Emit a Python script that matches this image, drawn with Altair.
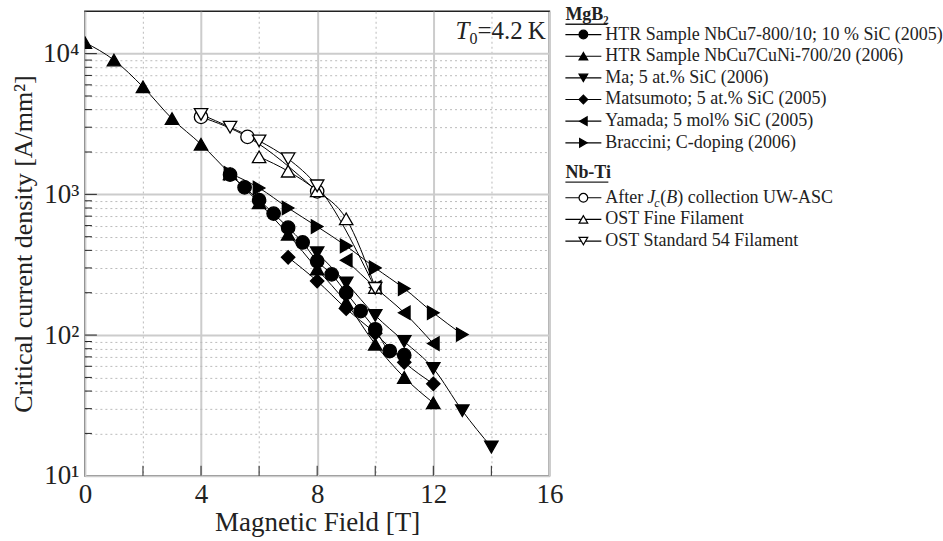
import altair as alt
import pandas as pd

FONT = "Liberation Serif"

# ---------------- data ----------------
htr800_B = [5, 5.5, 6, 6.5, 7, 7.5, 8, 8.5, 9, 9.5, 10, 10.5, 11]
htr800_J = [1380, 1120, 910, 730, 580, 455, 335, 270, 200, 148, 110, 77, 72]

htr700_B = [0, 1, 2, 3, 4, 5, 6, 7, 8, 9, 10, 11, 12]
htr700_J = [12000, 9000, 5800, 3450, 2270, 1400, 870, 520, 295, 170, 86, 50, 33]

ma_B = [8, 9, 10, 11, 12, 13, 14]
ma_J = [385, 235, 138, 90, 58, 29, 16]

mats_B = [7, 8, 9, 10, 11, 12]
mats_J = [357, 242, 154, 103, 64, 45]

yam_B = [9, 10, 11, 12]
yam_J = [340, 218, 144, 87]

brac_B = [5, 6, 7, 8, 9, 10, 11, 12, 13]
brac_J = [1410, 1110, 800, 590, 430, 300, 214, 144, 101]

uw_B = [4, 5.6, 8]
uw_J = [3550, 2560, 1050]

ostf_B = [6, 7, 8, 9, 10]
ostf_J = [1850, 1460, 1060, 670, 218]

ost54_B = [4, 5, 6, 7, 8, 10]
ost54_J = [3700, 3000, 2400, 1790, 1150, 215]

series_names = [
    "HTR Sample NbCu7-800/10; 10 % SiC (2005)",
    "HTR Sample NbCu7CuNi-700/20 (2006)",
    "Ma; 5 at.% SiC (2006)",
    "Matsumoto; 5 at.% SiC (2005)",
    "Yamada; 5 mol% SiC (2005)",
    "Braccini; C-doping (2006)",
    "After Jc(B) collection UW-ASC",
    "OST Fine Filament",
    "OST Standard 54 Filament",
]
series_B = [htr800_B, htr700_B, ma_B, mats_B, yam_B, brac_B, uw_B, ostf_B, ost54_B]
series_J = [htr800_J, htr700_J, ma_J, mats_J, yam_J, brac_J, uw_J, ostf_J, ost54_J]
series_shapes = ["circle", "triangle-up", "triangle-down", "diamond", "triangle-left",
                 "triangle-right", "circle", "triangle-up", "triangle-down"]
series_fills = ["black"] * 6 + ["white"] * 3

x_ticks = [0, 2, 4, 6, 8, 10, 12, 14, 16]
y_ticks = [m * 10 ** e for e in range(1, 4) for m in range(1, 10)] + [10000]
y_major = [10, 100, 1000, 10000]

rows = []
for name, bs, js in zip(series_names, series_B, series_J):
    for b, j in zip(bs, js):
        rows.append({"series": name, "B": b, "J": j})
df = pd.DataFrame(rows)

W, H = 465, 465

shape_scale = alt.Scale(domain=series_names, range=series_shapes)
fill_scale = alt.Scale(domain=series_names, range=series_fills)

xscale = alt.Scale(domain=[0, 16], nice=False)
yscale = alt.Scale(type="log", domain=[10, 20000], nice=False)

sup = {10: "10\u00b9", 100: "10\u00b2", 1000: "10\u00b3", 10000: "10\u2074"}
y_label_expr = ("datum.value == 10 ? '%s' : datum.value == 100 ? '%s' : "
                "datum.value == 1000 ? '%s' : datum.value == 10000 ? '%s' : ''") % (
    sup[10], sup[100], sup[1000], sup[10000])
major_test_y = "indexof([10,100,1000,10000], datum.value) >= 0"
major_test_x = "datum.value % 4 == 0"

x_axis = alt.Axis(
    values=x_ticks, labelExpr="datum.value % 4 == 0 ? datum.label : ''",
    title="Magnetic Field [T]", tickSize=0, domain=False,
    labelFont=FONT, labelFontSize=27, labelColor="#222", labelPadding=6,
    labelFlush=False, labelOverlap=False,
    titleFont=FONT, titleFontSize=27, titleFontWeight="normal", titleColor="#222",
    titlePadding=2,
    grid=True,
    gridDash={"condition": {"test": "!(" + major_test_x + ")", "value": [2, 3]}, "value": []},
    gridColor={"condition": {"test": major_test_x, "value": "#cccccc"}, "value": "#bbbbbb"},
    gridWidth={"condition": {"test": major_test_x, "value": 2}, "value": 1},
)
y_axis = alt.Axis(
    values=y_ticks, labelExpr=y_label_expr,
    title="Critical current density [A/mm\u00b2]", tickSize=0, domain=False,
    labelFont=FONT, labelFontSize=27, labelColor="#222", labelPadding=6,
    labelFlush=False, labelOverlap=False,
    titleFont=FONT, titleFontSize=26, titleFontWeight="normal", titleColor="#222",
    titlePadding=6,
    grid=True,
    gridDash={"condition": {"test": "!(" + major_test_y + ")", "value": [2, 3]}, "value": []},
    gridColor={"condition": {"test": major_test_y, "value": "#cccccc"}, "value": "#bbbbbb"},
    gridWidth={"condition": {"test": major_test_y, "value": 2}, "value": 1},
)

base = alt.Chart(df)
lines = base.mark_line(color="black", strokeWidth=1, interpolate="monotone").encode(
    x=alt.X("B:Q", scale=xscale, axis=x_axis),
    y=alt.Y("J:Q", scale=yscale, axis=y_axis),
    detail="series:N",
)
points = base.mark_point(filled=True, stroke="black", strokeWidth=1.3, opacity=1,
                         fillOpacity=1, size=180, clip=True).encode(
    x="B:Q", y="J:Q",
    shape=alt.Shape("series:N", scale=shape_scale, legend=None),
    fill=alt.Fill("series:N", scale=fill_scale, legend=None),
)

xt_df = pd.DataFrame({"B": x_ticks[1:-1]})
x_tick_rules = alt.Chart(xt_df).mark_rule(color="#222", strokeWidth=1).encode(
    x="B:Q", y=alt.value(H), y2=alt.value(H - 10))
yt_df = pd.DataFrame({"J": [v for v in y_ticks if v not in y_major]})
y_tick_rules = alt.Chart(yt_df).mark_rule(color="#222", strokeWidth=1).encode(
    y="J:Q", x=alt.value(0), x2=alt.value(7))
ytm_df = pd.DataFrame({"J": [100, 1000, 10000]})
y_tick_major = alt.Chart(ytm_df).mark_rule(color="#222", strokeWidth=1).encode(
    y="J:Q", x=alt.value(0), x2=alt.value(12))

# T0 = 4.2 K annotation
t_df = pd.DataFrame({"t": ["T"]})
t_main = alt.Chart(t_df).mark_text(font=FONT, fontSize=25, fontStyle="italic", align="left",
                                   baseline="alphabetic", color="#222").encode(
    text="t:N", x=alt.value(371), y=alt.value(28))
t_sub = alt.Chart(pd.DataFrame({"t": ["0"]})).mark_text(
    font=FONT, fontSize=16, align="left", baseline="alphabetic", color="#222").encode(
    text="t:N", x=alt.value(385), y=alt.value(33))
t_rest = alt.Chart(pd.DataFrame({"t": ["=4.2\u2009K"]})).mark_text(
    font=FONT, fontSize=25, align="left", baseline="alphabetic", color="#222").encode(
    text="t:N", x=alt.value(393), y=alt.value(28))

plot = alt.layer(lines, x_tick_rules, y_tick_rules, y_tick_major, points,
                 t_main, t_sub, t_rest).properties(
    width=W, height=H,
    view=alt.ViewBackground(stroke="#222", strokeWidth=1.5))

# ---------------- legend panel ----------------
LW = 375
item_rows = [23.3, 45, 66.7, 88.3, 110, 131.7, 186.7, 208.3, 230]
leg_labels = [n if i != 6 else "" for i, n in enumerate(series_names)]
leg_df = pd.DataFrame({
    "series": series_names, "label": leg_labels, "y": item_rows,
    "x0": [1] * 9, "x1": [37] * 9, "xm": [19] * 9, "xt": [41] * 9,
})
lx = alt.Scale(domain=[0, LW], nice=False)
ly = alt.Scale(domain=[0, H], nice=False, reverse=True)
lbase = alt.Chart(leg_df)
leg_lines = lbase.mark_rule(color="black", strokeWidth=1.2).encode(
    x=alt.X("x0:Q", scale=lx, axis=None), x2="x1:Q",
    y=alt.Y("y:Q", scale=ly, axis=None))
leg_pts = lbase.mark_point(filled=True, stroke="black", strokeWidth=1.2, opacity=1,
                           fillOpacity=1, size=75).encode(
    x="xm:Q", y="y:Q",
    shape=alt.Shape("series:N", scale=shape_scale, legend=None),
    fill=alt.Fill("series:N", scale=fill_scale, legend=None))
leg_txt = lbase.mark_text(font=FONT, fontSize=18, align="left", baseline="middle",
                          color="#222").encode(x="xt:Q", y="y:Q", text="label:N")

head_df = pd.DataFrame({"label": ["MgB\u2082", "Nb-Ti"], "x": [1, 1], "y": [4, 162],
                        "ux1": [43, 44], "uy": [13, 171]})
heads = alt.Chart(head_df).mark_text(font=FONT, fontSize=18, fontWeight="bold", align="left",
                                     baseline="middle", color="#222").encode(
    x=alt.X("x:Q", scale=lx), y=alt.Y("y:Q", scale=ly), text="label:N")
underl = alt.Chart(head_df).mark_rule(color="#222", strokeWidth=1.3).encode(
    x=alt.X("x:Q", scale=lx), x2="ux1:Q", y=alt.Y("uy:Q", scale=ly))

# rich-text label for the UW-ASC entry
uw_y = item_rows[6]
rich_norm = pd.DataFrame({"t": ["After", "(", ") collection UW-ASC"], "x": [41, 96, 113],
                          "y": [uw_y] * 3})
rich_it = pd.DataFrame({"t": ["J", "B"], "x": [83, 102], "y": [uw_y] * 2})
rich_sub = pd.DataFrame({"t": ["c"], "x": [90], "y": [uw_y + 5]})
r1 = alt.Chart(rich_norm).mark_text(font=FONT, fontSize=18, align="left", baseline="middle",
                                    color="#222").encode(
    x=alt.X("x:Q", scale=lx), y=alt.Y("y:Q", scale=ly), text="t:N")
r2 = alt.Chart(rich_it).mark_text(font=FONT, fontSize=18, fontStyle="italic", align="left",
                                  baseline="middle", color="#222").encode(
    x=alt.X("x:Q", scale=lx), y=alt.Y("y:Q", scale=ly), text="t:N")
r3 = alt.Chart(rich_sub).mark_text(font=FONT, fontSize=12, fontStyle="italic", align="left",
                                   baseline="middle", color="#222").encode(
    x=alt.X("x:Q", scale=lx), y=alt.Y("y:Q", scale=ly), text="t:N")

legend = alt.layer(leg_lines, leg_pts, leg_txt, heads, underl, r1, r2, r3).properties(
    width=LW, height=H)

chart = alt.hconcat(plot, legend, spacing=-3).properties(
    padding={"left": 9, "top": 6, "right": 0, "bottom": 0},
    background="white",
).configure_view(strokeWidth=0).resolve_scale(shape="shared", fill="shared")

chart.save("out.html", embed_options={"renderer": "svg", "actions": False})
